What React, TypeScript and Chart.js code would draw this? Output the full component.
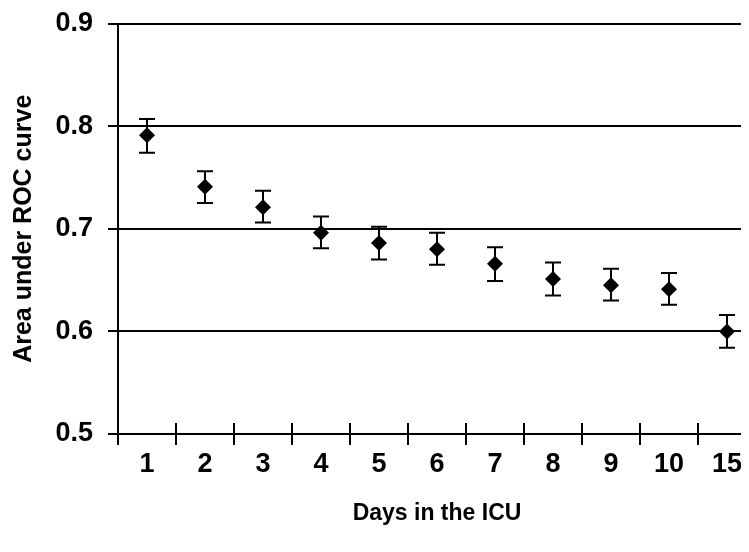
import React, { useEffect, useRef } from "react";
import { Chart, registerables } from "chart.js";

Chart.register(...registerables);

const days = ["1", "2", "3", "4", "5", "6", "7", "8", "9", "10", "15"];
const auc = [0.791, 0.741, 0.721, 0.696, 0.686, 0.68, 0.666, 0.651, 0.645, 0.641, 0.6];
const lower = [0.774, 0.725, 0.706, 0.681, 0.67, 0.665, 0.649, 0.635, 0.63, 0.626, 0.584];
const upper = [0.807, 0.756, 0.737, 0.712, 0.702, 0.696, 0.682, 0.667, 0.661, 0.657, 0.616];
const yMin = 0.5;
const yMax = 0.9;
const yStep = 0.1;

const FONT = "'Liberation Sans', Arial, sans-serif";

const errorBarPlugin = {
  id: "errorBars",
  beforeDatasetsDraw(chart: any) {
    const { ctx, scales } = chart;
    const x = scales.x;
    const y = scales.y;
    ctx.save();
    ctx.strokeStyle = "#000";
    ctx.lineWidth = 2;
    for (let i = 0; i < auc.length; i++) {
      const px = Math.round(x.getPixelForValue(i));
      const top = y.getPixelForValue(upper[i]);
      const bot = y.getPixelForValue(lower[i]);
      ctx.beginPath();
      ctx.moveTo(px, top);
      ctx.lineTo(px, bot);
      ctx.moveTo(px - 8, top);
      ctx.lineTo(px + 8, top);
      ctx.moveTo(px - 8, bot);
      ctx.lineTo(px + 8, bot);
      ctx.stroke();
    }
    ctx.restore();
  },
};

const crossTickPlugin = {
  id: "crossTicks",
  afterDraw(chart: any) {
    const { ctx, scales, chartArea } = chart;
    const x = scales.x;
    const half = (x.getPixelForValue(1) - x.getPixelForValue(0)) / 2;
    ctx.save();
    ctx.strokeStyle = "#000";
    ctx.lineWidth = 2;
    for (let i = 0; i <= days.length; i++) {
      const px = Math.round(x.getPixelForValue(i) - half);
      ctx.beginPath();
      ctx.moveTo(px, chartArea.bottom - 11);
      ctx.lineTo(px, chartArea.bottom + 11);
      ctx.stroke();
    }
    ctx.restore();
  },
};

export default function App() {
  const ref = useRef<HTMLCanvasElement | null>(null);

  useEffect(() => {
    if (!ref.current) return;
    const chart = new Chart(ref.current, {
      type: "line",
      data: {
        labels: days,
        datasets: [
          {
            data: auc,
            showLine: false,
            pointStyle: "rectRot",
            pointRadius: 8,
            pointBackgroundColor: "#000",
            pointBorderColor: "#000",
            pointBorderWidth: 0,
          },
        ],
      },
      options: {
        responsive: false,
        animation: false,
        events: [],
        layout: { padding: { top: 15.5, right: 22, left: 0, bottom: 0 } },
        plugins: { legend: { display: false }, tooltip: { enabled: false } },
        scales: {
          x: {
            type: "category",
            offset: true,
            grid: { display: false, drawTicks: false },
            border: { display: true, color: "#000", width: 2 },
            ticks: {
              color: "#000",
              padding: 14,
              maxRotation: 0,
              autoSkip: false,
              font: { family: FONT, size: 27, weight: "bold" },
            },
            title: {
              display: true,
              text: "Days in the ICU",
              color: "#000",
              padding: { top: 0, bottom: 25 },
              font: { family: FONT, size: 23, weight: "bold" },
            },
            afterFit(scale: any) {
              scale.height = 118;
              scale.paddingLeft = 0;
              scale.paddingRight = 0;
            },
          },
          y: {
            type: "linear",
            min: yMin,
            max: yMax,
            grid: { color: "#000", lineWidth: 2, tickLength: 10, drawTicks: true },
            border: { display: true, color: "#000", width: 2 },
            ticks: {
              stepSize: yStep,
              color: "#000",
              padding: 15,
              font: { family: FONT, size: 27, weight: "bold" },
              callback: (v: any) => Number(v).toFixed(1),
            },
            title: {
              display: true,
              text: "Area under ROC curve",
              color: "#000",
              padding: { top: 1.4, bottom: 0 },
              font: { family: FONT, size: 25, weight: "bold" },
            },
            afterFit(scale: any) {
              scale.width = 110;
              scale.paddingTop = 0;
              scale.paddingBottom = 0;
            },
          },
        },
      },
      plugins: [errorBarPlugin, crossTickPlugin],
    });
    return () => chart.destroy();
  }, []);

  return (
    <div style={{ width: 741, height: 544, overflow: "hidden", position: "relative" }}>
      <canvas ref={ref} width={770} height={544} style={{ display: "block" }} />
    </div>
  );
}
